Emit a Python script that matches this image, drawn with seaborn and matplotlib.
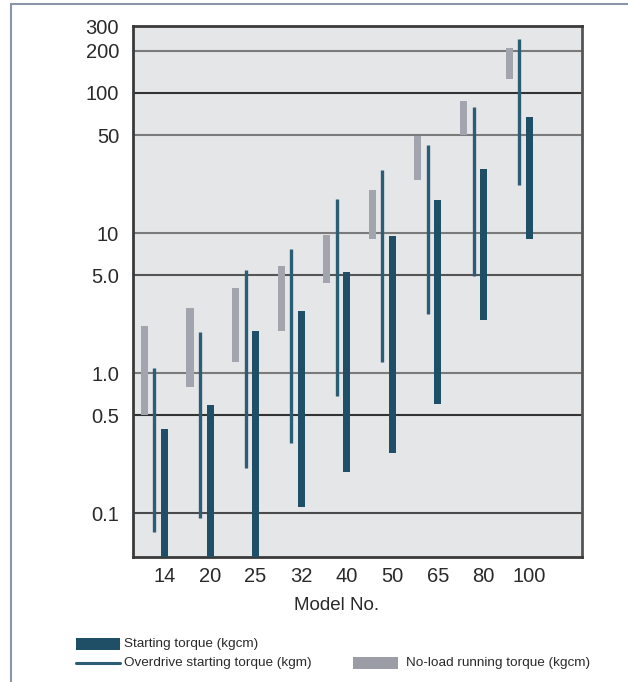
import numpy as np
import pandas as pd
import seaborn as sns
import matplotlib
matplotlib.use("Agg")
import matplotlib.pyplot as plt
from matplotlib.patches import Rectangle
from matplotlib.lines import Line2D

# Model numbers
models = ["14", "20", "25", "32", "40", "50", "65", "80", "100"]

# Starting torque range (kgcm)
start_low = [0.03, 0.03, 0.03, 0.111, 0.195, 0.27, 0.60, 2.4, 9.0]
start_high = [0.40, 0.59, 2.0, 2.75, 5.3, 9.5, 17.2, 28.6, 67]

# Overdrive starting torque range (kgm)
over_low = [0.073, 0.092, 0.21, 0.315, 0.69, 1.2, 2.64, 4.95, 22]
over_high = [1.09, 1.96, 5.4, 7.7, 17.4, 28.3, 42.5, 80, 244]

# No-load running torque range (kgcm)
noload_low = [0.5, 0.79, 1.2, 2.0, 4.37, 9.1, 24, 50, 125]
noload_high = [2.18, 2.93, 4.07, 5.8, 9.6, 20.3, 49, 87, 211]

# Y-axis ticks
ytick_vals = [0.1, 0.5, 1.0, 5.0, 10, 50, 100, 200, 300]
ytick_labels = ["0.1", "0.5", "1.0", "5.0", "10", "50", "100", "200", "300"]
grid_vals = [0.1, 0.5, 1.0, 5.0, 10, 50, 100, 200]
grid_cols = ["#4a4a4a", "#333333", "#7a7a7a", "#555555", "#7a7a7a", "#7a7a7a", "#333333", "#7a7a7a"]

df = pd.DataFrame({
    "model": models,
    "start_low": start_low, "start_high": start_high,
    "over_low": over_low, "over_high": over_high,
    "noload_low": noload_low, "noload_high": noload_high,
})
df["pos"] = np.arange(len(df))

sns.set_theme(style="white")
plt.rcParams["font.family"] = ["Liberation Sans", "DejaVu Sans"]

DARK = "#1f4f66"
LINE = "#2b5d74"
GRAY = "#a2a4ae"
BG = "#e4e6e8"
TXT = "#2a2a2a"

fig = plt.figure(figsize=(6.28, 6.82), dpi=100)
ax = fig.add_axes([133 / 628, 1 - 557 / 682, (582 - 133) / 628, (557 - 26) / 682])
ax.set_facecolor(BG)
ax.set_yscale("log")
ax.set_ylim(0.0485, 301)
ax.set_xlim(-0.69, 9.16)

for v, c in zip(grid_vals, grid_cols):
    ax.axhline(v, color=c, lw=1.5, zorder=1)

bw = 0.155
# No-load running torque (gray, left)
ax.bar(df["pos"] - 0.44, df["noload_high"] - df["noload_low"], bottom=df["noload_low"],
       width=bw, color=GRAY, zorder=3, linewidth=0)
# Overdrive starting torque (thin line, middle)
ax.vlines(df["pos"] - 0.22, df["over_low"], df["over_high"], color=LINE, lw=2.4, zorder=3)
# Starting torque (dark bar, right)
ax.bar(df["pos"], df["start_high"] - df["start_low"], bottom=df["start_low"],
       width=bw, color=DARK, zorder=3, linewidth=0)

ax.set_yticks(ytick_vals)
ax.set_yticklabels(ytick_labels)
ax.yaxis.set_minor_locator(matplotlib.ticker.NullLocator())
ax.set_xticks(df["pos"])
ax.set_xticklabels(df["model"])
ax.tick_params(axis="y", length=0, pad=10, labelsize=14.5, colors=TXT)
ax.tick_params(axis="x", length=0, pad=7, labelsize=14.5, colors=TXT)

for s in ["left", "bottom", "top"]:
    ax.spines[s].set_color("#3a3a3a")
    ax.spines[s].set_linewidth(2)
ax.spines["right"].set_color("#555555")
ax.spines["right"].set_linewidth(2)

fig.text(337 / 628, 1 - 606 / 682, "Model No.", ha="center", va="center",
         fontsize=13.5, color=TXT)

# Outer frame
fig.add_artist(Line2D([11 / 628, 11 / 628], [0, 1 - 4 / 682], transform=fig.transFigure,
                      color="#8a96a8", lw=1.5))
fig.add_artist(Line2D([11 / 628, 1], [1 - 4 / 682, 1 - 4 / 682], transform=fig.transFigure,
                      color="#8a96a8", lw=1.5))

# Legend
def px(x, y):
    return x / 628, 1 - y / 682

x0, y0 = px(76, 650)
fig.add_artist(Rectangle((x0, y0), 44 / 628, 12 / 682, transform=fig.transFigure,
                         color=DARK, lw=0))
fig.text(*px(124, 644), "Starting torque (kgcm)", va="center", fontsize=9.7, color=TXT)
fig.add_artist(Line2D([76 / 628, 120 / 628], [1 - 663 / 682] * 2, transform=fig.transFigure,
                      color=LINE, lw=2.2))
fig.text(*px(124, 663), "Overdrive starting torque (kgm)", va="center", fontsize=9.7, color=TXT)
x1, y1 = px(353, 669)
fig.add_artist(Rectangle((x1, y1), 45 / 628, 12 / 682, transform=fig.transFigure,
                         color="#9a9ca6", lw=0))
fig.text(*px(406, 663), "No-load running torque (kgcm)", va="center", fontsize=9.7, color=TXT)

fig.savefig("out.png", dpi=100, facecolor="white")
